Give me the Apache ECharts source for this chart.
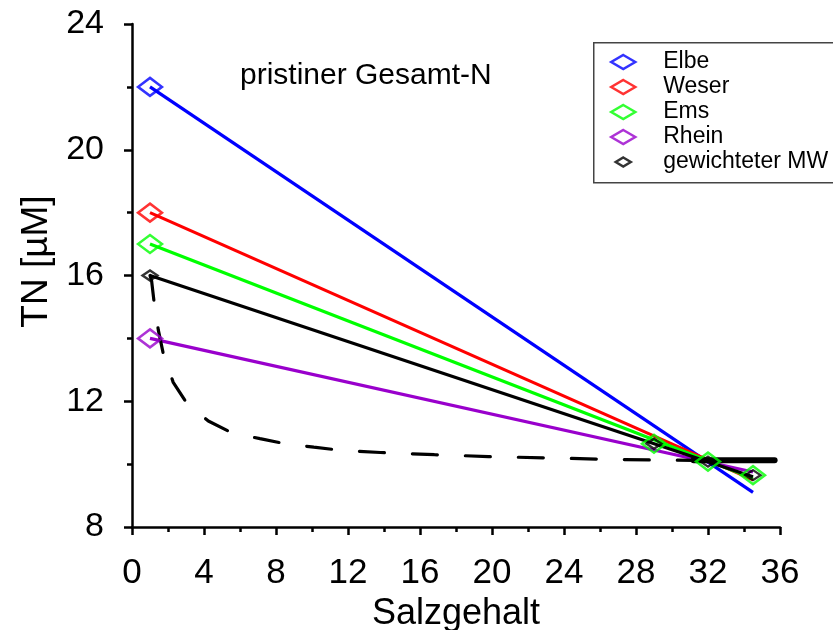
<!DOCTYPE html>
<html><head><meta charset="utf-8">
<script src="https://cdn.jsdelivr.net/npm/echarts@6/dist/echarts.min.js"></script>
<style>html,body{margin:0;padding:0;background:#fff}#c{width:833px;height:630px}</style>
</head><body><div id="c"></div>
<script>
// ---- data ----
const seriesNames = ['Elbe', 'Weser', 'Ems', 'Rhein', 'gewichteter MW'];
const riverSalinity = 1;
const riverTN = [22, 18, 17, 14, 16];
const endSalinity = 34.5;
const endTN = [9.1, 9.5, 9.55, 9.75, 9.6];
const stationSalinity = [29, 32, 34.5];
const stationTN = [10.65, 10.08, 9.65];
const mixSalinity = [1, 1.09, 1.22, 1.46, 1.74, 2.29, 3.04, 4.24, 5.54, 7.11, 8.5, 10.1, 11.6, 13.8, 16.8, 19.8, 22.9, 25.9, 29, 31.2];
const mixTN = [16, 15.83, 15.19, 14.27, 13.51, 12.6, 11.94, 11.37, 11.0, 10.81, 10.65, 10.54, 10.44, 10.37, 10.30, 10.24, 10.20, 10.16, 10.13, 10.12];
const plateauSalinity = [31.2, 35.7];
const plateauTN = [10.12, 10.12];
const xTickMin = 0, xTickMax = 36, xTickStep = 4;
const yTickMin = 8, yTickMax = 24, yTickStep = 4;
const titleText = 'pristiner Gesamt-N';
const xName = 'Salzgehalt';
const yName = 'TN [µM]';

// ---- styles ----
const colors = ['#0000ff', '#ff0000', '#00ff00', '#9900cc', '#000000'];
const FONT = '"Liberation Sans", Arial, sans-serif';

const series = [];
seriesNames.forEach((n, i) => {
  series.push({
    type: 'line', name: n + ' Linie', silent: true, showSymbol: false, z: 2,
    data: [[riverSalinity, riverTN[i]], [endSalinity, endTN[i]]],
    lineStyle: { color: colors[i], width: 3.2 }
  });
});
series.push({
  type: 'line', name: 'Mischungskurve', silent: true, showSymbol: false, z: 3,
  data: mixSalinity.map((s, k) => [s, mixTN[k]]),
  lineStyle: { color: '#000', width: 3.2, type: [25, 28], cap: 'round' }
});
series.push({
  type: 'line', name: 'Plateau', silent: true, showSymbol: false, z: 3,
  data: plateauSalinity.map((s, k) => [s, plateauTN[k]]),
  lineStyle: { color: '#000', width: 6, cap: 'round' }
});
seriesNames.forEach((n, i) => {
  const pts = [[riverSalinity, riverTN[i]]];
  if (n === 'Ems' || n === 'gewichteter MW') {
    stationSalinity.forEach((s, k) => pts.push([s, stationTN[k]]));
  }
  series.push({
    type: 'scatter', name: n, z: 5, symbol: 'diamond',
    symbolSize: n === 'gewichteter MW' ? [15, 10] : [24, 18],
    data: pts,
    itemStyle: { color: 'rgba(0,0,0,0)', borderColor: colors[i], borderWidth: 2.5 }
  });
});

const legendItem = (n, i) => ({
  name: n, icon: 'diamond',
  itemStyle: { color: 'rgba(0,0,0,0)', borderColor: colors[i], borderWidth: 2.5 }
});

const chart = echarts.init(document.getElementById('c'), null, { renderer: 'canvas' });
chart.setOption({
  animation: false,
  backgroundColor: '#fff',
  textStyle: { fontFamily: FONT },
  title: {
    text: titleText, left: 240, top: 61, padding: 0,
    textStyle: { fontFamily: FONT, fontSize: 30, fontWeight: 'normal', color: '#000' }
  },
  grid: { left: 132, right: 53, top: 24, bottom: 103, containLabel: false, outerBoundsMode: 'none' },
  graphic: [{
    type: 'rect', left: 593, top: 42, z: 0, silent: true,
    shape: { width: 250, height: 140 },
    style: { fill: '#fff', stroke: '#444', lineWidth: 1.5 }
  }],
  legend: [{
    orient: 'vertical', left: 610, top: 49.5, padding: 0, itemGap: 0,
    itemWidth: 24, itemHeight: 14, selectedMode: false,
    data: seriesNames.slice(0, 4).map(legendItem),
    textStyle: { fontFamily: FONT, fontSize: 23, color: '#000', lineHeight: 25, padding: [0, 0, 0, 23] }
  }, {
    orient: 'vertical', left: 614.5, top: 149.5, padding: 0, itemGap: 0,
    itemWidth: 15, itemHeight: 9, selectedMode: false,
    data: [legendItem(seriesNames[4], 4)],
    textStyle: { fontFamily: FONT, fontSize: 23, color: '#000', lineHeight: 25, padding: [0, 0, 0, 27.5] }
  }],
  xAxis: {
    type: 'value', min: xTickMin, max: xTickMax, interval: xTickStep,
    name: xName, nameLocation: 'middle', nameGap: 62,
    nameTextStyle: { fontFamily: FONT, fontSize: 36, color: '#000' },
    axisLine: { onZero: false, lineStyle: { color: '#000', width: 2.5 } },
    axisTick: { inside: false, length: 8, lineStyle: { color: '#000', width: 2.5 } },
    minorTick: { show: true, splitNumber: 2, length: 5, lineStyle: { color: '#000', width: 2.5 } },
    splitLine: { show: false }, minorSplitLine: { show: false },
    axisLabel: { fontFamily: FONT, fontSize: 35, color: '#000', margin: 29 }
  },
  yAxis: {
    type: 'value', min: yTickMin, max: yTickMax, interval: yTickStep,
    name: yName, nameLocation: 'middle', nameGap: 75,
    nameTextStyle: { fontFamily: FONT, fontSize: 37, color: '#000', padding: [0, 0, 0, 28] },
    axisLine: { onZero: false, lineStyle: { color: '#000', width: 2.5 } },
    axisTick: { inside: false, length: 8, lineStyle: { color: '#000', width: 2.5 } },
    minorTick: { show: true, splitNumber: 2, length: 5, lineStyle: { color: '#000', width: 2.5 } },
    splitLine: { show: false }, minorSplitLine: { show: false },
    axisLabel: { fontFamily: FONT, fontSize: 34, color: '#000', margin: 28 }
  },
  series: series
});
</script>
</body></html>
